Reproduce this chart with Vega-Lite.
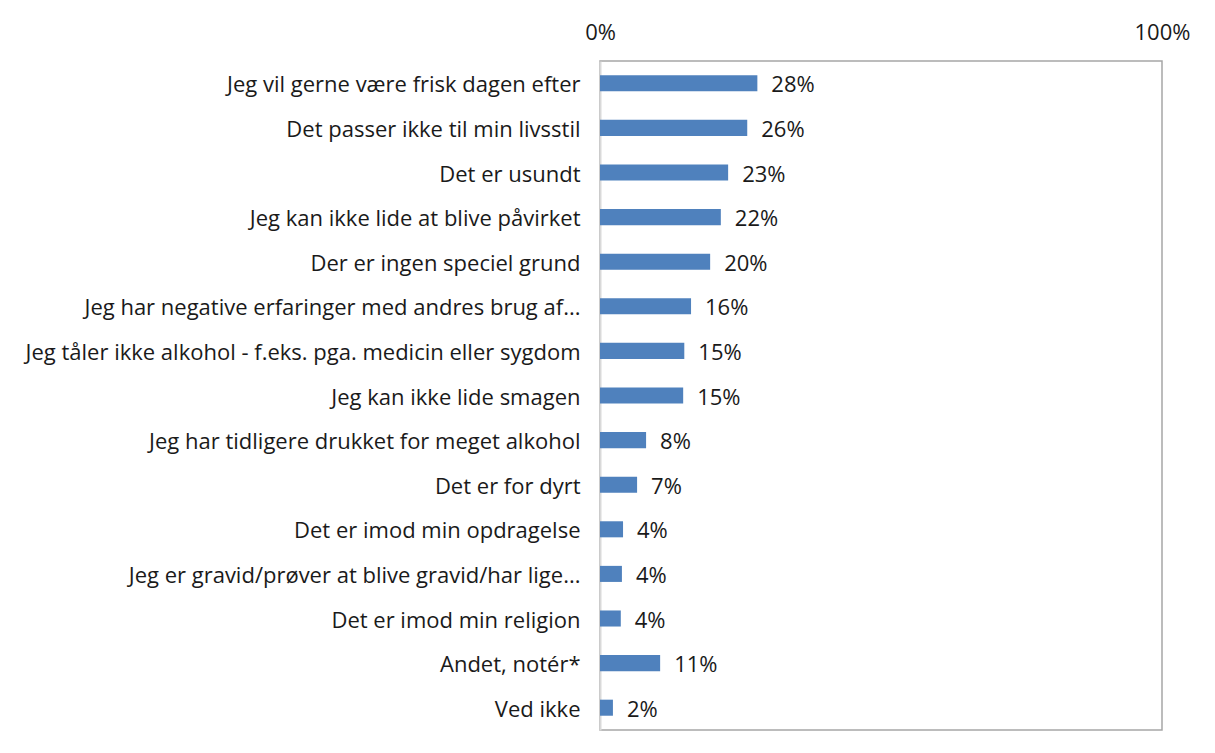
{
  "$schema": "https://vega.github.io/schema/vega-lite/v6.json",
  "autosize": {"type": "none"},
  "width": 562,
  "height": 669,
  "padding": {"left": 600, "top": 61, "right": 53, "bottom": 23},
  "background": "white",
  "config": {
    "view": {"stroke": "#a6a6a6", "strokeWidth": 1.5},
    "font": "Open Sans"
  },
  "data": {
    "values": [
      {"reason": "Jeg vil gerne være frisk dagen efter", "value": 0.28},
      {"reason": "Det passer ikke til min livsstil", "value": 0.262},
      {"reason": "Det er usundt", "value": 0.228},
      {"reason": "Jeg kan ikke lide at blive påvirket", "value": 0.215},
      {"reason": "Der er ingen speciel grund", "value": 0.196},
      {"reason": "Jeg har negative erfaringer med andres brug af...", "value": 0.162},
      {"reason": "Jeg tåler ikke alkohol - f.eks. pga. medicin eller sygdom", "value": 0.15},
      {"reason": "Jeg kan ikke lide smagen", "value": 0.148},
      {"reason": "Jeg har tidligere drukket for meget alkohol", "value": 0.082},
      {"reason": "Det er for dyrt", "value": 0.066},
      {"reason": "Det er imod min opdragelse", "value": 0.041},
      {"reason": "Jeg er gravid/prøver at blive gravid/har lige...", "value": 0.039},
      {"reason": "Det er imod min religion\u00a0", "value": 0.037},
      {"reason": "Andet, notér*", "value": 0.107},
      {"reason": "Ved ikke", "value": 0.023}
    ]
  },
  "encoding": {
    "y": {
      "field": "reason",
      "type": "nominal",
      "sort": null,
      "scale": {"paddingInner": 0.64, "paddingOuter": 0.32},
      "axis": {
        "title": null,
        "ticks": false,
        "domainColor": "#d9d9d9",
        "domainWidth": 2,
        "labelFontSize": 22,
        "labelColor": "#1a1a1a",
        "labelPadding": 20,
        "labelOffset": 2,
        "labelLimit": 600,
        "labelFont": "Open Sans"
      }
    },
    "x": {
      "field": "value",
      "type": "quantitative",
      "scale": {"domain": [0, 1], "nice": false},
      "axis": {
        "orient": "top",
        "values": [0, 1],
        "format": ".0%",
        "title": null,
        "ticks": false,
        "domain": false,
        "grid": false,
        "labelFontSize": 22,
        "labelColor": "#1a1a1a",
        "labelPadding": 17,
        "labelFlush": false,
        "labelFont": "Open Sans"
      }
    }
  },
  "layer": [
    {"mark": {"type": "bar", "color": "#4f81bd"}},
    {
      "mark": {"type": "text", "align": "left", "dx": 14, "dy": 2, "fontSize": 22, "color": "#1a1a1a", "font": "Open Sans"},
      "encoding": {"text": {"field": "value", "type": "quantitative", "format": ".0%"}}
    }
  ]
}
